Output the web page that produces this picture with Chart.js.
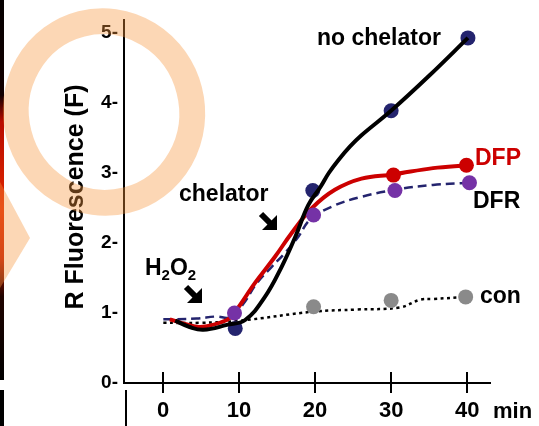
<!DOCTYPE html>
<html>
<head>
<meta charset="utf-8">
<script src="https://cdn.jsdelivr.net/npm/chart.js@4/dist/chart.umd.min.js"></script>
<style>
html,body{margin:0;padding:0;background:#fff;}
#wrap{width:539px;height:426px;position:relative;}
</style>
</head>
<body>
<div id="wrap"><canvas id="c" width="539" height="426"></canvas></div>
<script>
// ---- data ----
const xTicks = [0, 10, 20, 30, 40];
const yTicks = [0, 1, 2, 3, 4, 5];
const xUnitLabel = 'min';
const yTitle = 'R Fluorescence (F)';

// smooth traces
const noChelCurveX = [1.6, 3.5, 5.3, 8.4, 10.8, 13.4, 15.6, 17.4, 19.1, 20.7, 21.8, 23.1, 24.6, 26.1, 30.1, 35.1, 40.1];
const noChelCurveY = [0.89, 0.80, 0.76, 0.83, 0.90, 1.23, 1.66, 2.09, 2.54, 2.80, 3.00, 3.19, 3.38, 3.54, 3.90, 4.40, 4.93];
const dfpCurveX = [0.9, 3, 4.9, 8.4, 9.5, 12.1, 14.7, 16.9, 19.6, 22.6, 26.1, 30.3, 35.5, 40];
const dfpCurveY = [0.91, 0.84, 0.80, 0.90, 1.02, 1.43, 1.80, 2.14, 2.50, 2.76, 2.92, 2.98, 3.07, 3.11];
const dfrCurveX = [0.04, 4.4, 7.0, 8.8, 10.5, 12.3, 14.3, 16.05, 17.8, 19.3, 22.2, 26.1, 30.5, 35.5, 40.4];
const dfrCurveY = [0.91, 0.92, 0.95, 0.94, 1.12, 1.42, 1.66, 1.86, 2.09, 2.33, 2.52, 2.66, 2.76, 2.83, 2.86];
const conCurveX = [0.04, 4.9, 10.1, 19.8, 25.5, 31.2, 33.8, 35.5, 40];
const conCurveY = [0.86, 0.86, 0.89, 1.02, 1.05, 1.08, 1.19, 1.20, 1.23];

// measured points
const noChelDotsX = [9.5, 19.7, 30.0, 40.1];
const noChelDotsY = [0.78, 2.75, 3.89, 4.93];
const dfpDotsX = [30.3, 39.9];
const dfpDotsY = [2.97, 3.11];
const dfrDotsX = [9.4, 19.8, 30.5, 40.3];
const dfrDotsY = [1.0, 2.4, 2.75, 2.86];
const conDotsX = [19.8, 30.0, 39.8];
const conDotsY = [1.09, 1.18, 1.23];

const seriesNames = ['no chelator', 'DFP', 'DFR', 'con'];

const pts = (xs, ys) => xs.map((x, i) => ({x: x, y: ys[i]}));

const NAVY = '#24246e', RED = '#cc0000', PURPLE = '#7532a6', GREY = '#8a8a8a';
const FONT = '"Liberation Sans", Arial, sans-serif';

const curveBase = {type: 'line', pointRadius: 0, tension: 0.4, fill: false, borderCapStyle: 'butt'};
const dotBase = {type: 'line', showLine: false, pointRadius: 7.5, pointBorderWidth: 0, pointHoverRadius: 7.5};

const deco = {
  id: 'deco',
  beforeDraw(chart) {
    const ctx = chart.ctx;
    ctx.save();
    ctx.fillStyle = '#fff';
    ctx.fillRect(0, 0, chart.width, chart.height);
    ctx.restore();
  },
  afterDraw(chart) {
    const ctx = chart.ctx;
    const xs = chart.scales.x;
    const ca = chart.chartArea;
    ctx.save();
    // x tick marks crossing the axis
    ctx.strokeStyle = '#000';
    ctx.lineWidth = 2;
    xTicks.forEach(v => {
      const px = Math.round(xs.getPixelForValue(v));
      ctx.beginPath();
      ctx.moveTo(px, ca.bottom - 11);
      ctx.lineTo(px, ca.bottom + 10);
      ctx.stroke();
    });
    // axis break stub
    ctx.beginPath();
    ctx.moveTo(ca.left + 2, ca.bottom + 7);
    ctx.lineTo(ca.left + 2, chart.height);
    ctx.stroke();

    // y title
    ctx.fillStyle = '#000';
    ctx.font = 'bold 25px ' + FONT;
    ctx.save();
    ctx.translate(83, 197);
    ctx.rotate(-Math.PI / 2);
    ctx.textAlign = 'center';
    ctx.textBaseline = 'alphabetic';
    ctx.fillText(yTitle, 0, 0);
    ctx.restore();

    // annotations
    ctx.textAlign = 'left';
    ctx.textBaseline = 'alphabetic';
    ctx.font = 'bold 23px ' + FONT;
    ctx.fillStyle = '#000';
    ctx.fillText(seriesNames[0], 317, 45);
    ctx.fillStyle = RED;
    ctx.fillText(seriesNames[1], 475, 165);
    ctx.fillStyle = '#000';
    ctx.fillText(seriesNames[2], 473, 208);
    ctx.fillText(seriesNames[3], 480, 303);
    ctx.fillText('chelator', 179, 201);
    ctx.font = 'bold 22px ' + FONT;
    ctx.fillText(xUnitLabel, 493, 418);
    // H2O2
    ctx.font = 'bold 23px ' + FONT;
    ctx.fillText('H', 145, 275);
    let w = ctx.measureText('H').width;
    ctx.font = 'bold 15px ' + FONT;
    ctx.fillText('2', 145 + w, 280);
    let w2 = ctx.measureText('2').width;
    ctx.font = 'bold 23px ' + FONT;
    ctx.fillText('O', 145 + w + w2, 275);
    let w3 = ctx.measureText('O').width;
    ctx.font = 'bold 15px ' + FONT;
    ctx.fillText('2', 145 + w + w2 + w3, 280);

    // arrows
    const arrow = (tx, ty) => {
      ctx.fillStyle = '#000';
      ctx.beginPath();
      ctx.moveTo(tx, ty);
      ctx.lineTo(tx, ty - 15);
      ctx.lineTo(tx - 15, ty);
      ctx.closePath();
      ctx.fill();
      ctx.strokeStyle = '#000';
      ctx.lineWidth = 6;
      ctx.lineCap = 'butt';
      ctx.beginPath();
      ctx.moveTo(tx - 6, ty - 6);
      ctx.lineTo(tx - 16, ty - 16);
      ctx.stroke();
    };
    arrow(202, 303);
    arrow(277, 230);

    // left image strip
    const g = ctx.createLinearGradient(0, 0, 0, 380);
    g.addColorStop(0, '#050000');
    g.addColorStop(0.25, '#120000');
    g.addColorStop(0.32, '#b80c00');
    g.addColorStop(0.55, '#e02800');
    g.addColorStop(0.68, '#c01800');
    g.addColorStop(0.78, '#200400');
    g.addColorStop(1, '#000');
    ctx.fillStyle = g;
    ctx.fillRect(0, 0, 4, 380);
    ctx.fillStyle = '#000';
    ctx.fillRect(0, 390, 4, 36);

    // watermark ring
    ctx.globalAlpha = 0.38;
    ctx.strokeStyle = 'rgb(247,150,60)';
    ctx.fillStyle = 'rgb(247,150,60)';
    ctx.lineWidth = 26;
    ctx.beginPath();
    ctx.ellipse(104, 112, 88, 91, -0.25, 0, Math.PI * 2);
    ctx.stroke();
    ctx.beginPath();
    ctx.moveTo(0, 182);
    ctx.lineTo(30, 238);
    ctx.lineTo(0, 288);
    ctx.closePath();
    ctx.fill();
    ctx.restore();
  }
};

new Chart(document.getElementById('c'), {
  data: {
    datasets: [
      Object.assign({}, curveBase, {label: 'no chelator line', data: pts(noChelCurveX, noChelCurveY), borderColor: '#000', borderWidth: 4, order: 0}),
      Object.assign({}, dotBase, {label: 'no chelator', data: pts(noChelDotsX, noChelDotsY), pointBackgroundColor: NAVY, order: 1}),
      Object.assign({}, dotBase, {label: 'DFR', data: pts(dfrDotsX, dfrDotsY), pointBackgroundColor: PURPLE, order: 2}),
      Object.assign({}, dotBase, {label: 'DFP', data: pts(dfpDotsX, dfpDotsY), pointBackgroundColor: RED, order: 3}),
      Object.assign({}, curveBase, {label: 'DFP line', data: pts(dfpCurveX, dfpCurveY), borderColor: RED, borderWidth: 4, order: 4}),
      Object.assign({}, curveBase, {label: 'DFR line', data: pts(dfrCurveX, dfrCurveY), borderColor: NAVY, borderWidth: 2.5, borderDash: [9, 5], order: 5}),
      Object.assign({}, dotBase, {label: 'con', data: pts(conDotsX, conDotsY), pointBackgroundColor: GREY, order: 6}),
      Object.assign({}, curveBase, {label: 'con line', data: pts(conCurveX, conCurveY), borderColor: '#000', borderWidth: 2.5, borderDash: [3, 3.5], order: 7})
    ]
  },
  options: {
    responsive: false,
    animation: false,
    events: [],
    layout: {padding: {left: 0, top: 20, right: 49, bottom: 0}},
    plugins: {legend: {display: false}, tooltip: {enabled: false}},
    scales: {
      x: {
        type: 'linear', min: -5.13, max: 43.0,
        afterFit(s) { s.height = 43; },
        afterBuildTicks(s) { s.ticks = xTicks.map(v => ({value: v})); },
        grid: {display: false, drawTicks: false},
        border: {display: true, color: '#000', width: 2},
        ticks: {color: '#000', padding: 15, font: {family: FONT, size: 22, weight: 'bold'}, maxRotation: 0, autoSkip: false}
      },
      y: {
        type: 'linear', min: 0, max: 5.186,
        afterFit(s) { s.width = 124; },
        afterBuildTicks(s) { s.ticks = yTicks.map(v => ({value: v})); },
        grid: {display: false, drawTicks: false},
        border: {display: true, color: '#000', width: 2},
        ticks: {color: '#000', padding: 6, font: {family: FONT, size: 19, weight: 'bold'}, callback: v => v + '-'}
      }
    }
  },
  plugins: [deco]
});
</script>
</body>
</html>
